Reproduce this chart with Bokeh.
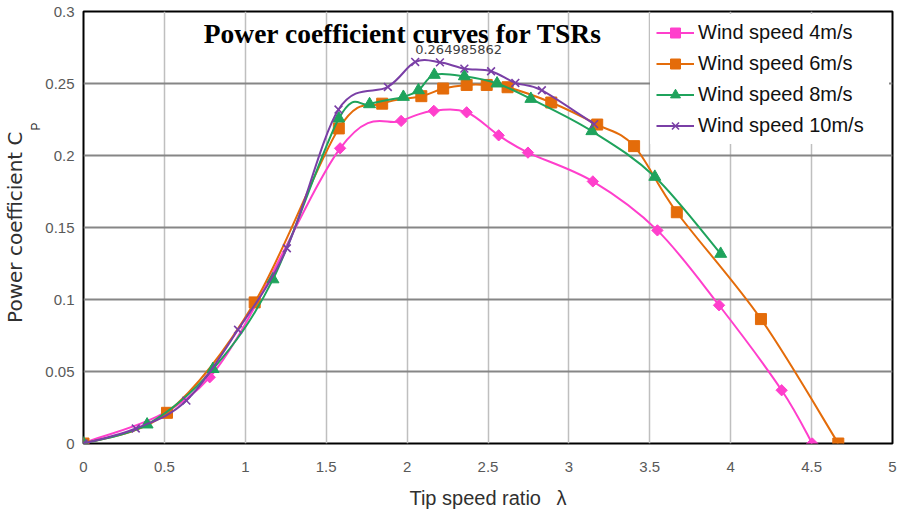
import numpy as np
from bokeh.plotting import figure
from bokeh.models import Range1d, FixedTicker, Label, Legend, LegendItem, ColumnDataSource, Title
from bokeh.embed import file_html
from bokeh.resources import INLINE

# ---------------- data ----------------
x_ticks = [0, 0.5, 1, 1.5, 2, 2.5, 3, 3.5, 4, 4.5, 5]
x_tick_labels = ["0", "0.5", "1", "1.5", "2", "2.5", "3", "3.5", "4", "4.5", "5"]
y_ticks = [0, 0.05, 0.1, 0.15, 0.2, 0.25, 0.3]
y_tick_labels = ["0", "0.05", "0.1", "0.15", "0.2", "0.25", "0.3"]

series_names = ["Wind speed 4m/s", "Wind speed 6m/s", "Wind speed 8m/s", "Wind speed 10m/s"]

tsr_4 = [0, 0.78, 1.586, 1.963, 2.165, 2.368, 2.566, 2.747, 3.148, 3.547, 3.928, 4.315, 4.504]
cp_4 = [0, 0.046, 0.205, 0.224, 0.231, 0.230, 0.214, 0.202, 0.182, 0.148, 0.096, 0.037, 0]

tsr_6 = [0, 0.516, 1.058, 1.578, 1.846, 2.088, 2.223, 2.368, 2.492, 2.621, 2.891, 3.175, 3.403, 3.667, 4.187, 4.665]
cp_6 = [0, 0.0213, 0.098, 0.2188, 0.236, 0.2412, 0.2465, 0.249, 0.249, 0.2474, 0.2368, 0.2215, 0.2065, 0.1606, 0.0864, 0]

tsr_8 = [0, 0.393, 0.80, 1.171, 1.578, 1.768, 1.977, 2.07, 2.168, 2.354, 2.556, 2.765, 3.142, 3.531, 3.938]
cp_8 = [0, 0.0132, 0.0517, 0.114, 0.2257, 0.2356, 0.2407, 0.2453, 0.256, 0.255, 0.25, 0.2393, 0.2169, 0.1852, 0.1317]

tsr_10 = [0, 0.323, 0.636, 0.955, 1.257, 1.576, 1.881, 2.05, 2.203, 2.354, 2.519, 2.669, 2.833, 3.156]
cp_10 = [0, 0.0104, 0.0298, 0.079, 0.1356, 0.2319, 0.2476, 0.264985862, 0.2647, 0.2603, 0.2585, 0.2504, 0.2453, 0.2218]

peak_label = "0.264985862"
peak_index = 7

colors = ["#FF3FCC", "#E46C0A", "#1FA35C", "#7A3FA6"]
markers = ["square", "square", "triangle", "x"]
angles = [np.pi / 4, 0, 0, 0]
sizes = [8, 11, 12, 11]

# ---------------- helpers ----------------
def smooth_segments(xs, ys):
    """Bezier control points (Catmull-Rom style, like spreadsheet smoothed lines)."""
    xs = np.asarray(xs, float)
    ys = np.asarray(ys, float)
    n = len(xs)
    d = dict(x0=[], y0=[], x1=[], y1=[], cx0=[], cy0=[], cx1=[], cy1=[])
    for i in range(n - 1):
        i0 = max(i - 1, 0)
        i3 = min(i + 2, n - 1)
        d["x0"].append(xs[i]); d["y0"].append(ys[i])
        d["x1"].append(xs[i + 1]); d["y1"].append(ys[i + 1])
        d["cx0"].append(xs[i] + (xs[i + 1] - xs[i0]) / 6.0)
        d["cy0"].append(ys[i] + (ys[i + 1] - ys[i0]) / 6.0)
        d["cx1"].append(xs[i + 1] - (xs[i3] - xs[i]) / 6.0)
        d["cy1"].append(ys[i + 1] - (ys[i3] - ys[i]) / 6.0)
    return d

# ---------------- figure ----------------
p = figure(width=899, height=511, output_backend="svg", toolbar_location=None,
           x_range=Range1d(0, 5), y_range=Range1d(0, 0.3),
           min_border_left=82, min_border_right=7, min_border_top=11, min_border_bottom=67)
p.background_fill_color = "white"
p.border_fill_color = "white"
p.outline_line_color = "black"
p.outline_line_width = 2

p.xaxis.ticker = FixedTicker(ticks=x_ticks)
p.yaxis.ticker = FixedTicker(ticks=y_ticks)
p.xaxis.major_label_overrides = {t: l for t, l in zip(x_ticks, x_tick_labels)}
p.yaxis.major_label_overrides = {t: l for t, l in zip(y_ticks, y_tick_labels)}
for ax in (p.xaxis, p.yaxis):
    ax.axis_line_color = None
    ax.major_tick_line_color = None
    ax.minor_tick_line_color = None
    ax.major_tick_out = 0
    ax.major_tick_in = 0
    ax.minor_tick_out = 0
    ax.minor_tick_in = 0
    ax.major_label_text_font = "Liberation Sans"
    ax.major_label_text_font_size = "15px"
    ax.major_label_text_color = "#595959"
p.xaxis.major_label_standoff = 18
p.yaxis.major_label_standoff = 9

p.xaxis.axis_label = "Tip speed ratio\u2002 \u03bb"
p.xaxis.axis_label_text_font = "Liberation Sans"
p.xaxis.axis_label_text_font_size = "20px"
p.xaxis.axis_label_text_font_style = "normal"
p.xaxis.axis_label_text_color = "#303030"
p.xaxis.axis_label_standoff = 12

p.xgrid.grid_line_color = "#BFBFBF"
p.xgrid.grid_line_width = 1.5
p.ygrid.grid_line_color = "#868686"
p.ygrid.grid_line_width = 2

data = [(tsr_4, cp_4), (tsr_6, cp_6), (tsr_8, cp_8), (tsr_10, cp_10)]
items = []
for (xs, ys), name, c, m, a, s in zip(data, series_names, colors, markers, angles, sizes):
    src = ColumnDataSource(smooth_segments(xs, ys))
    curve = p.bezier(x0="x0", y0="y0", x1="x1", y1="y1", cx0="cx0", cy0="cy0", cx1="cx1", cy1="cy1",
                     source=src, line_color=c, line_width=2)
    if m == "x":
        sc = p.scatter(xs, ys, marker=m, size=s, line_color=c, line_width=1.6)
    else:
        sc = p.scatter(xs, ys, marker=m, size=s, angle=a, fill_color=c, line_color=c)
    items.append(LegendItem(label=name, renderers=[curve, sc], index=0))

legend = Legend(items=items, location="top_right")
legend.margin = 3
legend.padding = 6
legend.spacing = 6
legend.glyph_width = 38
legend.glyph_height = 25
legend.label_height = 25
legend.label_width = 185
legend.label_standoff = 4
legend.label_text_font = "Liberation Sans"
legend.label_text_font_size = "20px"
legend.label_text_color = "#111111"
legend.border_line_alpha = 0
legend.background_fill_color = "white"
legend.background_fill_alpha = 1
p.add_layout(legend)

# title inside the plot
p.add_layout(Label(x=1.975, y=0.2849, text="Power coefficient curves for TSRs",
                   text_align="center", text_baseline="alphabetic",
                   text_font="Liberation Serif", text_font_style="bold",
                   text_font_size="27.5px", text_color="black"))

# data label on peak
p.add_layout(Label(x=tsr_10[peak_index], y=cp_10[peak_index], text=peak_label,
                   text_align="left", text_baseline="alphabetic", y_offset=12,
                   text_font="DejaVu Sans", text_font_size="13px", text_color="#404040"))

# y axis label with subscript (as side titles)
p.add_layout(Title(text="P", align="right", offset=111, standoff=0,
                   text_font="Liberation Sans", text_font_size="12px",
                   text_font_style="normal", text_color="#303030"), "left")
p.add_layout(Title(text="Power coefficient C", align="right", offset=120, standoff=0,
                   text_font="DejaVu Sans", text_font_size="20px",
                   text_font_style="normal", text_color="#303030"), "left")

open("out.html", "w").write(file_html(p, INLINE))
